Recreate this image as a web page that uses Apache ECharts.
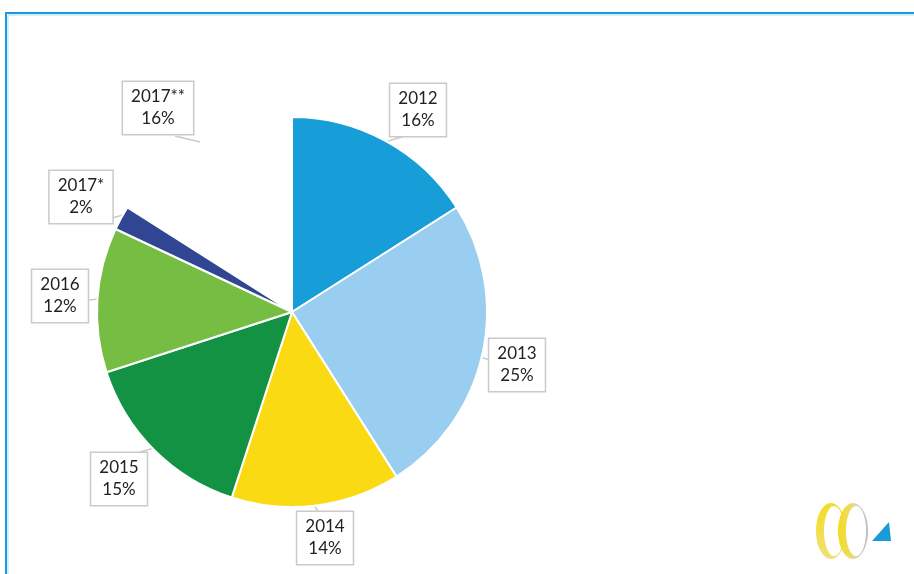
<!DOCTYPE html>
<html>
<head>
<meta charset="utf-8">
<script src="https://cdn.jsdelivr.net/npm/echarts@6/dist/echarts.min.js"></script>
<style>
  html, body { margin: 0; padding: 0; background: #fff; }
  #chart { width: 914px; height: 574px; }
</style>
</head>
<body>
<div id="chart"></div>
<script>
const years = ['2012', '2013', '2014', '2015', '2016', '2017*', '2017**']
const shares = [16, 25, 14, 15, 12, 2, 16]
const sliceColors = ['#179ed8', '#99cef0', '#f9da13', '#139244', '#76bd43', '#314692', 'transparent']

// label box centres and callout tips (layout only)
const labelCenters = [
  [418, 110], [517, 365], [325, 538], [119, 479], [60, 296], [81, 197], [158, 108],
]
const calloutTips = [
  [385, 142], [479, 357], [313, 504], [154, 448], [99, 299], [123, 215], [200, 142],
]
const calloutBase = [
  [405, 136], [491, 360], [318, 511], [140, 452], [88, 300], [112, 218], [175, 136],
]

const chart = echarts.init(document.getElementById('chart'))

const ring = (cx, fill) => [
  {
    type: 'ellipse',
    shape: { cx: cx, cy: 531, rx: 15, ry: 28 },
    style: { fill: fill },
  },
  {
    type: 'ellipse',
    shape: { cx: cx + 3, cy: 531, rx: 10, ry: 25 },
    style: { fill: '#fff' },
  },
]

const option = {
  animation: false,
  graphic: [
    // frame
    {
      type: 'rect',
      shape: { x: 6, y: 13, width: 1000, height: 700 },
      style: { fill: 'none', stroke: '#1a9ad6', lineWidth: 2 },
      silent: true,
    },
    {
      type: 'rect',
      shape: { x: 8, y: 15, width: 1000, height: 700 },
      style: { fill: 'none', stroke: '#a8dcf3', lineWidth: 1 },
      silent: true,
    },
    // logo
    {
      type: 'group',
      silent: true,
      children: [].concat(
        ring(831, new echarts.graphic.LinearGradient(0, 0, 0, 1, [
          { offset: 0, color: '#f5dc1e' },
          { offset: 1, color: '#f0e07a' },
        ])),
        ring(853, new echarts.graphic.LinearGradient(0, 0, 1, 0, [
          { offset: 0, color: '#f5dc1e' },
          { offset: 0.45, color: '#eadc6a' },
          { offset: 0.7, color: '#d2d2d2' },
          { offset: 1, color: '#bdbdbd' },
        ])),
        [{
          type: 'polygon',
          shape: { points: [[889, 522], [891, 541], [872, 541]] },
          style: { fill: '#1a9ad6' },
        }]
      ),
    },
  ],
  series: [
    {
      type: 'pie',
      center: [292, 312],
      radius: 195,
      startAngle: 90,
      clockwise: true,
      avoidLabelOverlap: false,
      data: years.map((y, i) => ({
        name: y,
        value: shares[i],
        itemStyle: {
          color: sliceColors[i],
          borderColor: '#fff',
          borderWidth: i === 6 ? 0 : 2,
        },
      })),
      label: {
        show: true,
        position: 'outside',
        formatter: '{b}\n{c}%',
        fontFamily: 'Lato, "Open Sans", sans-serif',
        fontSize: 17,
        lineHeight: 22,
        color: '#222',
        backgroundColor: '#fff',
        borderColor: '#cacaca',
        borderWidth: 1.5,
        padding: [4, 8, 4, 8],
        align: 'center',
      },
      labelLine: {
        show: true,
        lineStyle: { color: '#cacaca', width: 1.5 },
      },
      labelLayout: function (params) {
        const i = params.dataIndex
        const p = labelCenters[i]
        return {
          x: p[0],
          y: p[1],
          align: 'center',
          verticalAlign: 'middle',
          labelLinePoints: [calloutTips[i], calloutBase[i], calloutBase[i]],
        }
      },
      emphasis: { disabled: true },
    },
  ],
}

chart.setOption(option)
</script>
</body>
</html>
